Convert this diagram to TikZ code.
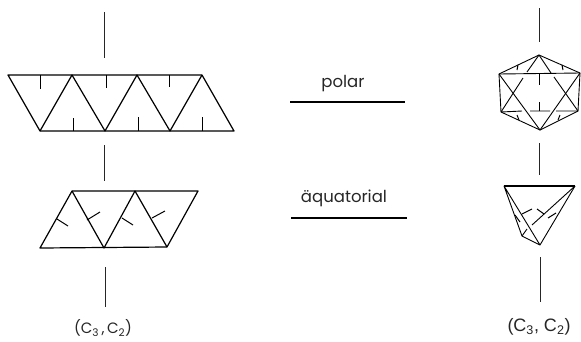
\documentclass[tikz,border=0pt]{standalone}
\usepackage{fontspec}
\setmainfont{Poppins}
\newfontfamily\rightfont{Liberation Sans}
\usetikzlibrary{positioning,calc}
\tikzset{
  edge/.style={draw=black, line width=1.2pt, line join=round},
  thinedge/.style={draw=black, line width=0.9pt, line join=round},
  axisline/.style={draw=black!85, line width=1pt},
  tick/.style={draw=black, line width=1pt},
  modelabel/.style={font=\fontsize{16.5}{18}\selectfont, inner sep=0pt, text=black!85},
  symlabel/.style={font=\fontsize{15}{17}\selectfont, inner sep=0pt, text=black!85}
}

\begin{document}
\begin{tikzpicture}[x=1pt,y=-1pt]
  \useasboundingbox (0,0) rectangle (581,341);

  % polar strip
  \coordinate (pa1) at (8,75);
  \coordinate (pa2) at (72,75);
  \coordinate (pa3) at (137,75);
  \coordinate (pa4) at (202,75);
  \coordinate (pb1) at (40,131);
  \coordinate (pb2) at (105,131);
  \coordinate (pb3) at (170,131);
  \coordinate (pb4) at (234,131);
  \draw[edge] (pa1) -- (pa4) -- (pb4) -- (pb1) -- cycle;
  \draw[edge] (pb1) -- (pa2) -- (pb2) -- (pa3) -- (pb3) -- (pa4);
  \foreach \x/\y in {40/89,106/88,169/87} \draw[tick] (\x,75) -- (\x,\y);
  \foreach \x/\y in {73/118,138/117,202/117} \draw[tick] (\x,131) -- (\x,\y);

  % equatorial strip
  \coordinate (qa1) at (72,191);
  \coordinate (qa2) at (135,191);
  \coordinate (qa3) at (198,191);
  \coordinate (qb1) at (40,248);
  \coordinate (qb2) at (104,248);
  \coordinate (qb3) at (167,247);
  \draw[edge] (qa1) -- (qa3) -- (qb3) -- (qb1) -- cycle;
  \draw[edge] (qa1) -- (qb2) -- (qa2) -- (qb3);
  \draw[tick] (57,219) -- (68,226);
  \draw[tick] (87,220) -- (100,212);
  \draw[tick] (122,218) -- (133,225);
  \draw[tick] (152,218) -- (165,211);

  % left axis
  \draw[axisline] (104,12) -- (104,58);
  \draw[axisline] (104.5,145) -- (104.5,181);
  \draw[axisline] (105,267) -- (105,307);
  \node[symlabel] (symleft) at (103,328) {(C\textsubscript{3}\,,\,C\textsubscript{2})};

  % middle
  \node[modelabel] (polar) at (343,84) {polar};
  \coordinate (pl) at (290,102);
  \coordinate (pr) at (405,102);
  \draw[edge] (pl) -- (pr);
  \node[modelabel] (aequ) at (344,198) {äquatorial};
  \coordinate (ql) at (291,218);
  \coordinate (qr) at (407,218);
  \draw[edge] (ql) -- (qr);

  % icosahedron
  \coordinate (top) at (539,55);
  \coordinate (left) at (499,74);
  \coordinate (right) at (580,73);
  \coordinate (lleft) at (501,112);
  \coordinate (lright) at (578,111);
  \coordinate (bot) at (540,130);
  \draw[thinedge] (top) -- (right) -- (lright) -- (bot) -- (lleft) -- (left) -- cycle;
  \draw[thinedge] (left) -- (right);
  \draw[thinedge] (left) -- (bot) -- (right);
  \draw[thinedge] (top) -- (527,72) (523,78) -- (lleft);
  \draw[thinedge] (top) -- (551,73) (554,77) -- (lright);
  \draw[thinedge] (lleft) -- (522,111) (530,111) -- (550,111) (556,111) -- (lright);
  \draw[tick] (539,74) -- (539,85);
  \draw[tick] (539,111) -- (539,102);
  \draw[tick] (518,65) -- (517,70);
  \draw[tick] (562,65) -- (563,70);
  \draw[tick] (517,115) -- (519,120);
  \draw[tick] (560,115) -- (558,120);

  % small polyhedron
  \coordinate (tl) at (504,186);
  \coordinate (tr) at (575,186);
  \coordinate (bt) at (540,245);
  \coordinate (ll) at (522,236);
  \draw[edge] (tl) -- (tr);
  \draw[thinedge] (tr) -- (bt) -- (tl) -- (ll) -- (bt);
  \draw[thinedge] (tr) -- (532,225) (527,229) -- (ll);
  \draw[tick] (522,214) -- (532,209);
  \draw[tick] (537,209) -- (544,214);
  \draw[tick] (548,218) -- (556,213);
  \draw[tick] (515,215) -- (520,222);

  % right axis
  \draw[axisline] (539,8) -- (539,42);
  \draw[axisline] (539,143) -- (539,175);
  \draw[axisline] (540,257) -- (540,302);
  \node[symlabel, font=\rightfont\fontsize{18}{20}\selectfont] (symright) at (539,327) {(C\textsubscript{3}, C\textsubscript{2})};
\end{tikzpicture}
\end{document}
